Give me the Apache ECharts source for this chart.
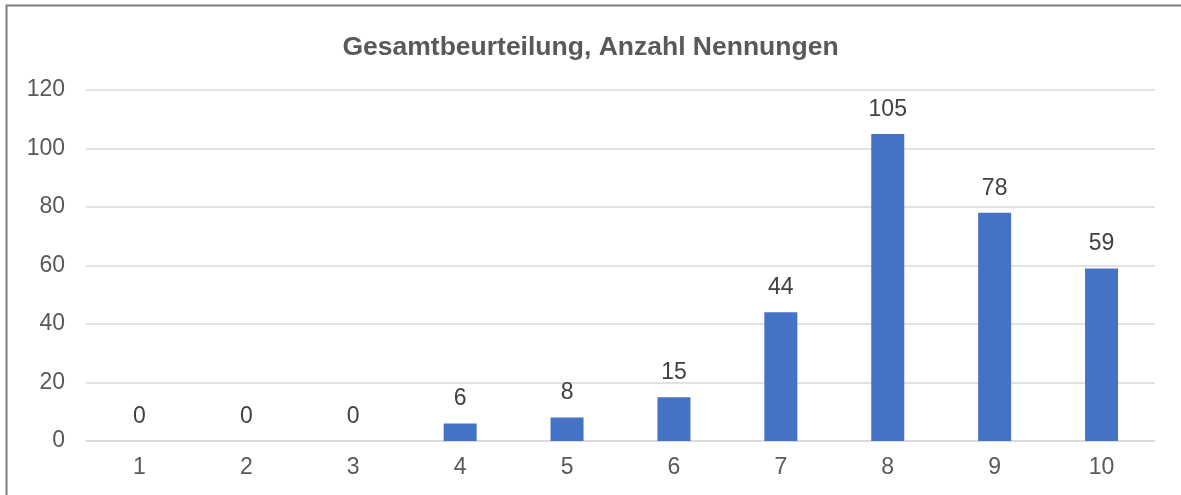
<!DOCTYPE html>
<html><head><meta charset="utf-8">
<script src="https://cdn.jsdelivr.net/npm/echarts@6/dist/echarts.min.js"></script>
<style>html,body{margin:0;padding:0;background:#fff}#c{width:1181px;height:495px}</style>
</head><body><div id="c"></div>
<script>
const categories = ['1','2','3','4','5','6','7','8','9','10'];
const values = [0,0,0,6,8,15,44,105,78,59];
const titleText = 'Gesamtbeurteilung, Anzahl Nennungen';
const chart = echarts.init(document.getElementById('c'), null, {renderer:'canvas'});
const font = 'Arial, "Liberation Sans", sans-serif';
chart.setOption({
  animation:false,
  backgroundColor:'#fff',
  textStyle:{fontFamily:font},
  title:{text:titleText,left:'center',top:29,textStyle:{fontSize:26.5,fontWeight:'bold',color:'#595959',fontFamily:font}},
  graphic:[{type:'rect',shape:{x:6.5,y:5.5,width:1200,height:600},style:{fill:'none',stroke:'#7f7f7f',lineWidth:2},silent:true}],
  grid:{left:86,right:26,top:90,bottom:54,containLabel:false},
  xAxis:{type:'category',data:categories,
    axisLine:{show:true,lineStyle:{color:'#d9d9d9',width:1.5}},
    axisTick:{show:false},
    axisLabel:{color:'#595959',fontSize:23,margin:15,fontFamily:font}},
  yAxis:{type:'value',min:0,max:120,interval:20,
    axisLine:{show:false},axisTick:{show:false},
    splitLine:{lineStyle:{color:'#d9d9d9',width:1.5}},
    axisLabel:{color:'#595959',fontSize:23,margin:21,fontFamily:font}},
  series:[{type:'bar',data:values,barWidth:33,
    itemStyle:{color:'#4472c4'},
    label:{show:true,position:'top',distance:13,color:'#404040',fontSize:23,fontFamily:font}}]
});
</script></body></html>
